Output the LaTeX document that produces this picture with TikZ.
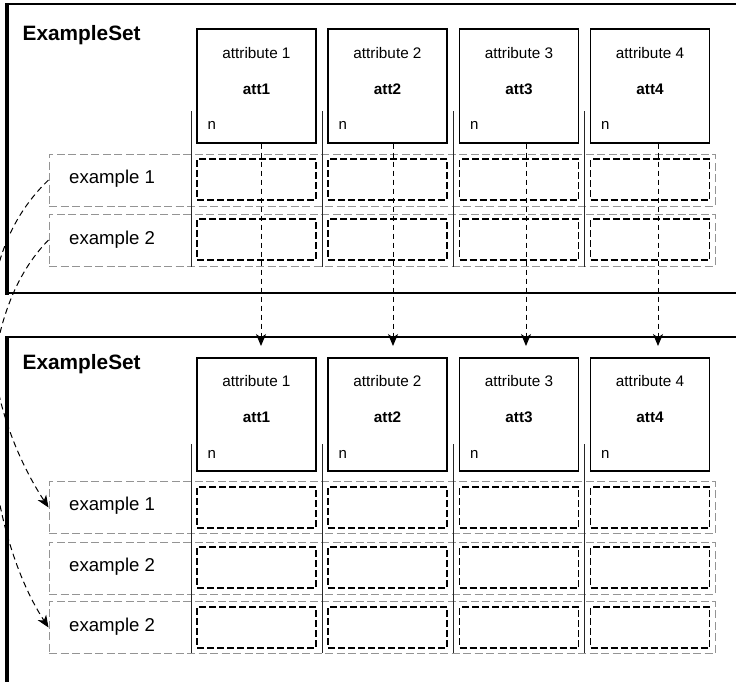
\documentclass[tikz,border=0pt]{standalone}
\usepackage{fontspec}
\setmainfont{Liberation Sans}
\usetikzlibrary{arrows.meta,calc}

\begin{document}
\begin{tikzpicture}[x=1pt,y=-1pt,
  frame/.style={line width=2.4pt},
  frameleft/.style={line width=4pt},
  attbox/.style={draw, line width=1.3pt, minimum width=119pt, minimum height=114pt, inner sep=0pt},
  cellbox/.style={draw, line width=1.7pt, dash pattern=on 7pt off 3pt, minimum width=119pt, minimum height=41pt, inner sep=0pt},
  rowbox/.style={draw=black!42, line width=1pt, dash pattern=on 8pt off 3.5pt, minimum width=666pt, minimum height=52pt, inner sep=0pt},
  sepline/.style={draw=black!85, line width=0.9pt},
  flow/.style={line width=1pt, dash pattern=on 6pt off 4pt, -{Stealth[length=12pt,width=10pt,inset=3.5pt]}},
  settitle/.style={font=\fontsize{20.8}{24}\selectfont\bfseries, anchor=base west, inner sep=0pt},
  attname/.style={font=\fontsize{15.3}{18}\selectfont, anchor=base, inner sep=0pt},
  attid/.style={font=\fontsize{15.3}{18}\selectfont\bfseries, anchor=base, inner sep=0pt},
  attn/.style={font=\fontsize{15}{18}\selectfont, anchor=base west, inner sep=0pt},
  exlabel/.style={font=\fontsize{18.6}{22}\selectfont, anchor=base west, inner sep=0pt}
]
\useasboundingbox (0,0) rectangle (736,681);
\begin{scope}
\clip (0,0) rectangle (736,681);

% ---- the two ExampleSet frames (open to the right) ----
\draw[frame] (745,4) -- (7,4) -- (7,293) -- (745,293);
\draw[frameleft] (7,3) -- (7,294.5);
\draw[frame] (745,337) -- (7,337) -- (7,700);
\draw[frameleft] (7,336) -- (7,700);

\node[settitle] (st1) at (22.5,40.7) {ExampleSet};
\node[settitle] (st2) at (22.5,369.3) {ExampleSet};

% ---- example rows ----
\node[rowbox] (tr1) at (382,180) {};
\node[rowbox] (tr2) at (382,240) {};
\node[rowbox] (br1) at (382,507.5) {};
\node[rowbox] (br2) at (382,568) {};
\node[rowbox] (br3) at (382,627.5) {};

\node[exlabel] (tx1) at (69,183.3) {example 1};
\node[exlabel] (tx2) at (69,244.3) {example 2};
\node[exlabel] (bx1) at (69,510) {example 1};
\node[exlabel] (bx2) at (69,571) {example 2};
\node[exlabel] (bx3) at (69,631) {example 2};

% ---- attribute columns ----
\foreach \i/\cx/\sx in {1/256.5/191, 2/387.5/322, 3/519/453, 4/650/584} {
  % upper set
  \draw[sepline] (\sx,111) -- (\sx,267);
  \node[attbox] (ta\i) at (\cx,86) {};
  \node[attname] at ($(ta\i.north)+(0,30.5)$) {attribute \i};
  \node[attid]   at ($(ta\i.north)+(0,66.5)$) {att\i};
  \node[attn]    at ($(ta\i.north west)+(11,101)$) {n};
  \node[cellbox] (tc\i a) at (\cx,179.5) {};
  \node[cellbox] (tc\i b) at (\cx,239.5) {};
  % lower set
  \draw[sepline] (\sx,444) -- (\sx,653);
  \node[attbox, minimum height=113pt] (ba\i) at (\cx,414.5) {};
  \node[attname] at ($(ba\i.north)+(0,29.5)$) {attribute \i};
  \node[attid]   at ($(ba\i.north)+(0,65.5)$) {att\i};
  \node[attn]    at ($(ba\i.north west)+(11,101)$) {n};
  \node[cellbox] (bc\i a) at (\cx,507.5) {};
  \node[cellbox] (bc\i b) at (\cx,567.5) {};
  \node[cellbox] (bc\i c) at (\cx,627.5) {};
}

% ---- attribute mapping arrows ----
\coordinate (ah1) at (261,346);
\coordinate (ah2) at (393,346);
\coordinate (ah3) at (526,346);
\coordinate (ah4) at (658,346);
\foreach \i in {1,...,4} {
  \draw[flow, dash pattern=on 5pt off 4pt] (ta\i.south -| ah\i) -- (ah\i);
}

% ---- example mapping arrows ----
\draw[flow] (tr1.west) .. controls (-40,265) and (-15,410) .. (br1.west);
\draw[flow] (tr2.west) .. controls (-40,330) and (-15,530) .. (br3.west);

\end{scope}
\end{tikzpicture}
\end{document}
